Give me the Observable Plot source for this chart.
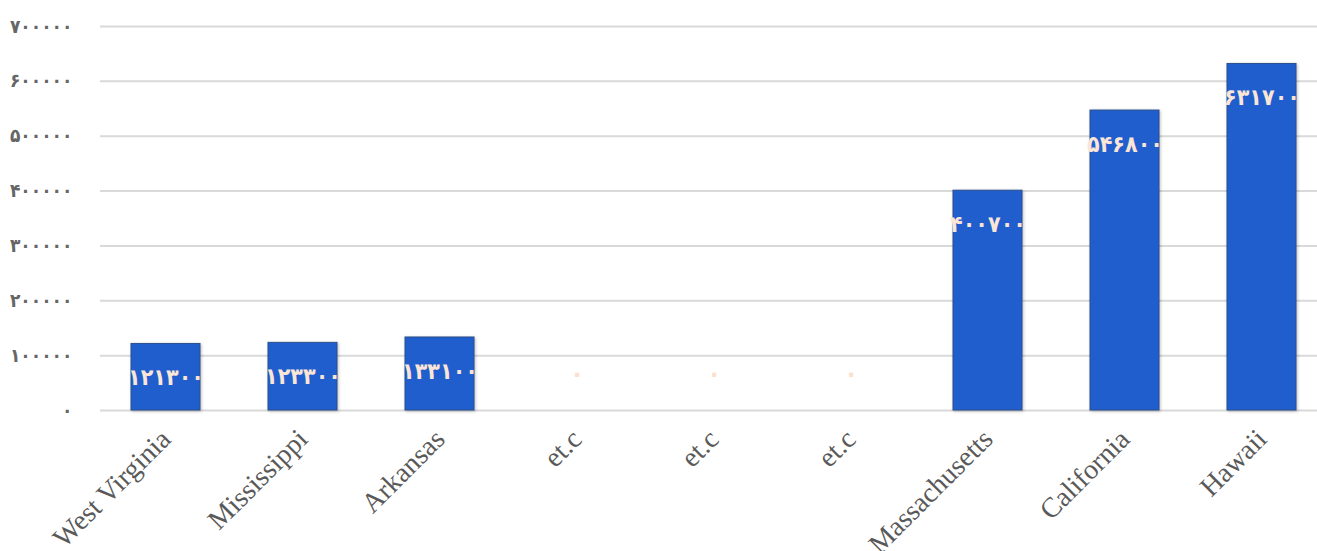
<!DOCTYPE html>
<html>
<head>
<meta charset="utf-8">
<script src="https://cdn.jsdelivr.net/npm/d3@7"></script>
<script src="https://cdn.jsdelivr.net/npm/@observablehq/plot@0.6"></script>
<style>
  html, body { margin: 0; padding: 0; background: #fff; }
  #chart svg { display: block; }
  #chart rect { filter: drop-shadow(1px 1px 1.5px rgba(0,0,0,0.25)); }
</style>
</head>
<body>
<div id="chart"></div>
<script>
// States and their values
const categories = ["West Virginia", "Mississippi", "Arkansas", "et.c", "et.c", "et.c", "Massachusetts", "California", "Hawaii"];
const values = [121300, 123300, 133100, 0, 0, 0, 400700, 546800, 631700];
const yTicks = [0, 100000, 200000, 300000, 400000, 500000, 600000, 700000];

// Persian (Extended Arabic-Indic) digits
const persianDigits = "۰۱۲۳۴۵۶۷۸۹";
const fa = n => String(n).replace(/\d/g, c => persianDigits[+c]);

const data = categories.map((name, i) => ({i, name, value: values[i]}));

const labelFont = "'DejaVu Sans Condensed', 'DejaVu Sans', sans-serif";

const chart = Plot.plot({
  width: 1317,
  height: 551,
  marginTop: 26,
  marginBottom: 141,
  marginLeft: 100,
  marginRight: 0,
  x: {type: "band", domain: d3.range(categories.length), range: [96.5, 1329.5], paddingInner: 0.5, paddingOuter: 0.25},
  y: {domain: [0, 700000]},
  marks: [
    Plot.ruleY(yTicks, {stroke: "#d9d9d9", strokeWidth: 2}),
    Plot.axisY({
      ticks: yTicks, tickFormat: fa, tickSize: 0, tickPadding: 28, label: null,
      fontSize: 19, fontFamily: labelFont, fontWeight: "bold", color: "#666666"
    }),
    Plot.axisX({
      tickFormat: i => categories[i], tickRotate: -45, tickSize: 0, tickPadding: 24, label: null,
      fontSize: 28, fontFamily: "Liberation Serif", color: "#595959"
    }),
    Plot.barY(data, {x: "i", y: "value", fill: "#205ecd", stroke: "#2b4f8c", strokeWidth: 1}),
    Plot.text(data.filter(d => d.value > 0), {
      x: "i", y: "value", text: d => fa(d.value), dy: 34,
      fill: "#fbe5d6", fontSize: 23, fontFamily: labelFont, fontWeight: "bold"
    }),
    Plot.text(data.filter(d => d.value === 0), {
      x: "i", y: "value", text: d => fa(d.value), dy: -37,
      fill: "#fbe0cc", fontSize: 25, fontFamily: labelFont, fontWeight: "bold"
    })
  ]
});

document.getElementById("chart").append(chart);
</script>
</body>
</html>
